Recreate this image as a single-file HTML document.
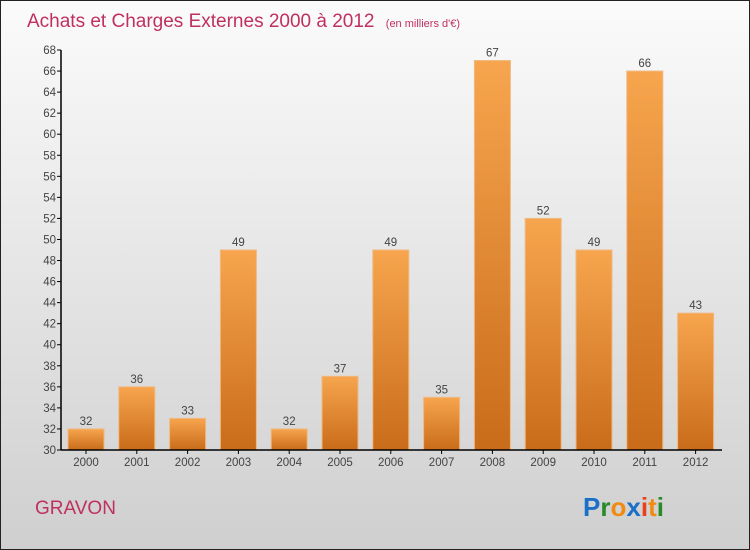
<!DOCTYPE html>
<html><head><meta charset="utf-8"><style>
html,body{margin:0;padding:0;width:750px;height:550px;overflow:hidden}
svg{display:block;font-family:"Liberation Sans",sans-serif}
</style></head><body>
<svg id="c" width="750" height="550" xmlns="http://www.w3.org/2000/svg">
<defs>
<linearGradient id="bg" x1="0" y1="0" x2="0" y2="1"><stop offset="0" stop-color="#fbfbfb"/><stop offset="1" stop-color="#cfcfcf"/></linearGradient>
<linearGradient id="bar" x1="0" y1="0" x2="0" y2="1"><stop offset="0" stop-color="#f7a54e"/><stop offset="1" stop-color="#c96c1a"/></linearGradient>
</defs>
<rect x="0.5" y="0.5" width="749" height="549" fill="url(#bg)" stroke="#222"/>
<text x="27" y="27" font-size="19" fill="#c0305e">Achats et Charges Externes 2000 à 2012 <tspan font-size="11" dx="6">(en milliers d'€)</tspan></text>
<text x="35" y="514" font-size="19" fill="#c0305e">GRAVON</text>
<g id="plot"></g>
<text x="583" y="516" font-size="26" font-weight="bold"><tspan fill="#1a6fc9">P</tspan><tspan fill="#2a8a2a">r</tspan><tspan fill="#f08a10">o</tspan><tspan fill="#1a6fc9">x</tspan><tspan fill="#e8401a">i</tspan><tspan fill="#f08a10">t</tspan><tspan fill="#2a8a2a">i</tspan></text>
</svg>
<script>
const years=["2000","2001","2002","2003","2004","2005","2006","2007","2008","2009","2010","2011","2012"];
const values=[32,36,33,49,32,37,49,35,67,52,49,66,43];
const yTicks=[30,32,34,36,38,40,42,44,46,48,50,52,54,56,58,60,62,64,66,68];
const NS="http://www.w3.org/2000/svg";
const g=document.getElementById('plot');
const y0=450,y1=50,vmin=30,vmax=68,x0=61,x1=722;
const yS=v=>y0-(v-vmin)/(vmax-vmin)*(y0-y1);
const step=50.8,bw=36;
const xC=i=>86+i*step;
function mk(t,a,txt){const e=document.createElementNS(NS,t);for(const k in a)e.setAttribute(k,a[k]);if(txt!==undefined)e.textContent=txt;g.appendChild(e);return e;}
yTicks.forEach(v=>{
 const l=mk('line',{x1:x0-4,x2:x0,y1:yS(v),y2:yS(v),stroke:'#000'});
 
 
 const t=mk('text',{x:x0-5,y:yS(v)+4,'font-size':11.5,fill:'#444','text-anchor':'end'},v);
 
 
});
values.forEach((v,i)=>{
 const r=mk('rect',{x:xC(i)-bw/2,y:yS(v),width:bw,height:y0-yS(v),fill:'url(#bar)',stroke:'#f0b880','stroke-width':1});
 
 
 const t=mk('text',{x:xC(i),y:yS(v)-4,'font-size':11.5,fill:'#444','text-anchor':'middle'},v);
 
 
 const tk=mk('line',{x1:xC(i),x2:xC(i),y1:y0,y2:y0+4,stroke:'#000'});
 
 
 const xl=mk('text',{x:xC(i),y:466,'font-size':11.5,fill:'#444','text-anchor':'middle'},years[i]);
 
 
});
const ya=mk('line',{x1:x0,x2:x0,y1:y1,y2:y0,stroke:'#000','stroke-width':1.5});


const xa=mk('line',{x1:x0,x2:x1,y1:y0,y2:y0,stroke:'#000','stroke-width':1.5});


</script>
</body></html>
